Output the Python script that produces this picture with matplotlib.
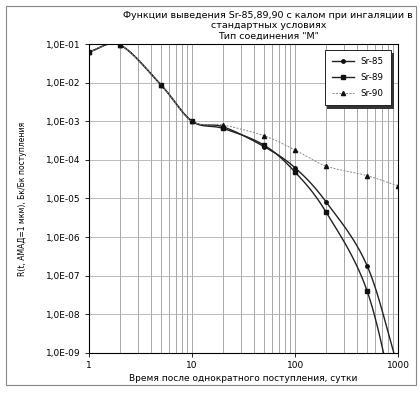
import matplotlib.pyplot as plt
import numpy as np
from matplotlib.patches import Rectangle

# data
days = [1, 2, 5, 10, 20, 50, 100, 200, 500, 1000]
sr85 = [6.3e-2, 9.4e-2, 8.7e-3, 1.0e-3, 7.2e-4, 2.2e-4, 6.2e-5, 8.1e-6, 1.8e-7, 4e-10]
sr89 = [6.3e-2, 9.4e-2, 8.7e-3, 1.0e-3, 6.5e-4, 2.4e-4, 4.8e-5, 4.4e-6, 4.0e-8, 2e-11]
sr90 = [6.3e-2, 9.4e-2, 8.7e-3, 1.0e-3, 8.0e-4, 4.2e-4, 1.8e-4, 6.9e-5, 3.9e-5, 2.1e-5]
names = ['Sr-85', 'Sr-89', 'Sr-90']
yticks = [1e-9, 1e-8, 1e-7, 1e-6, 1e-5, 1e-4, 1e-3, 1e-2, 1e-1]


def smooth(x, y, n=30):
    # Catmull-Rom in log-log space, like Excel smoothed lines
    lx = np.log10(x)
    ly = np.log10(y)
    px = np.concatenate([[2 * lx[0] - lx[1]], lx, [2 * lx[-1] - lx[-2]]])
    py = np.concatenate([[2 * ly[0] - ly[1]], ly, [2 * ly[-1] - ly[-2]]])
    ox, oy = [], []
    t = np.linspace(0, 1, n)
    for i in range(1, len(px) - 2):
        for p, o in ((px, ox), (py, oy)):
            p0, p1, p2, p3 = p[i - 1], p[i], p[i + 1], p[i + 2]
            o.extend(0.5 * (2 * p1 + (-p0 + p2) * t + (2 * p0 - 5 * p1 + 4 * p2 - p3) * t ** 2
                            + (-p0 + 3 * p1 - 3 * p2 + p3) * t ** 3))
    return 10 ** np.array(ox), 10 ** np.array(oy)


fig = plt.figure(figsize=(4.2, 3.93), dpi=100)
ax = fig.add_axes([0.212, 0.102, 0.736, 0.786])

styles = [
    dict(color='#222222', lw=1.0, ls='-', marker='o', ms=2.5),
    dict(color='#222222', lw=1.0, ls='-', marker='s', ms=3.5),
    dict(color='#888888', lw=0.7, ls=(0, (2, 1.5)), marker='^', ms=3),
]
for vals, name, st in zip([sr85, sr89, sr90], names, styles):
    sx, sy = smooth(days, vals)
    ax.plot(sx, sy, color=st['color'], lw=st['lw'], ls=st['ls'])
    ax.plot(days, vals, ls='none', marker=st['marker'], ms=st['ms'], color='#111111')
    ax.plot([], [], color=st['color'], lw=st['lw'], ls=st['ls'], marker=st['marker'],
            ms=st['ms'], mfc='#111111', mec='#111111', label=name)

ax.set_xscale('log')
ax.set_yscale('log')
ax.set_xlim(1, 1000)
ax.set_ylim(1e-9, 1e-1)
ax.set_yticks(yticks)
ax.set_yticklabels(['1,0E-%02d' % -int(round(np.log10(v))) for v in yticks], fontsize=6.5)
ax.set_xticks([1, 10, 100, 1000])
ax.set_xticklabels(['1', '10', '100', '1000'], fontsize=6.5)
ax.minorticks_off()
ax.tick_params(length=3, width=0.6, pad=3)
for v in [m * 10 ** k for k in range(3) for m in range(1, 10)]:
    ax.axvline(v, color='#999999', lw=0.6, zorder=0)
for v in yticks:
    ax.axhline(v, color='#b0b0b0', lw=0.6, zorder=0)
for s in ax.spines.values():
    s.set_linewidth(0.8)

ax.set_xlabel('Время после однократного поступления, сутки', fontsize=6.5, labelpad=3)
ax.set_ylabel('R(t, АМАД=1 мкм), Бк/Бк поступления', fontsize=5.5, labelpad=14)
ax.set_title('Функции выведения Sr-85,89,90 с калом при ингаляции в\n'
             'стандартных условиях\nТип соединения "М"', fontsize=6.8,
             pad=4, linespacing=1.15, x=0.58)

leg = ax.legend(loc='upper right', bbox_to_anchor=(0.99, 0.995), fontsize=6.3,
                frameon=True, fancybox=False, borderpad=0.8,
                labelspacing=0.8, handlelength=2.5,
                shadow={'color': '#333333', 'alpha': 1})
leg.get_frame().set_edgecolor('#222222')
leg.get_frame().set_linewidth(0.7)
leg.get_frame().set_alpha(1)

fig.patches.append(Rectangle((0.015, 0.02), 0.975, 0.965, transform=fig.transFigure,
                             fill=False, ec='#888888', lw=0.8))

fig.savefig('out.png', dpi=100)
